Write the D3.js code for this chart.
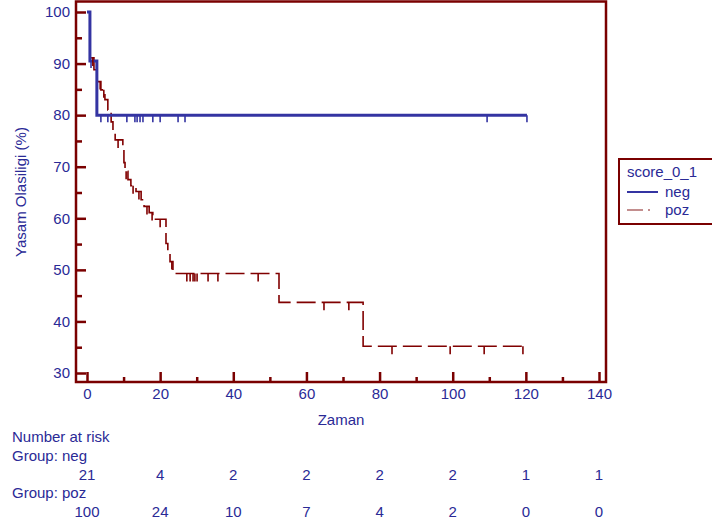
<!DOCTYPE html>
<html>
<head>
<meta charset="utf-8">
<script src="https://cdnjs.cloudflare.com/ajax/libs/d3/7.8.5/d3.min.js"></script>
<style>
  body { margin: 0; background: #fff; }
  svg { display: block; }
  text { font-family: "Liberation Sans", Arial, sans-serif; }
</style>
</head>
<body>
<svg width="712" height="526"></svg>
<script>
// survival steps (time, survival %)
var negTimes = [0, 0.8, 2.7];
var negSurv = [100, 90.5, 80];
var negEnd = 120.3;
var negCensor = [1.1, 3.8, 5.7, 10.9, 13.1, 13.7, 14.5, 15.3, 18, 20, 24.9, 26.8, 109.4, 120.3];

var pozTimes = [0, 0.8, 1.9, 2.7, 3.8, 4.9, 5.7, 6.6, 7.1, 7.7, 9.8, 10.1, 10.4, 11.2, 12.0, 13.4, 14.8, 15.6, 17.0, 18.0, 21.6, 22.1, 22.7, 23.5, 52.5, 75.5];
var pozSurv = [100, 91.1, 88.8, 86.5, 84.9, 83.0, 81.0, 78.7, 76.8, 75.2, 73.3, 70.8, 69.1, 67.5, 66.3, 65.2, 63.6, 62.3, 61.1, 59.8, 55.1, 53.6, 51.6, 49.3, 43.7, 35.2];
var pozEnd = 119.2;
var pozCensor = [1.6, 3.6, 4.6, 8.5, 10.7, 12.6, 14.2, 16.4, 17.8, 20, 23.2, 27.3, 28.2, 29, 29.5, 30.1, 33.1, 35.8, 46.8, 64.8, 71.6, 83.4, 99.3, 108.6, 119.2];

// number at risk
var riskTimes = [0, 20, 40, 60, 80, 100, 120, 140];
var riskNeg = [21, 4, 2, 2, 2, 2, 1, 1];
var riskPoz = [100, 24, 10, 7, 4, 2, 0, 0];

var yTicks = [30, 40, 50, 60, 70, 80, 90, 100];
var yMinor = [35, 45, 55, 65, 75, 85, 95];
var xTicks = [0, 20, 40, 60, 80, 100, 120, 140];
var xMinor = [10, 30, 50, 70, 90, 110, 130];

var frameColor = '#7a0000';
var textColor = '#2a2a96';
var negColor = '#3434a2';
var pozColor = '#800000';
var fontSize = 15;

var svg = d3.select('svg');

var x = d3.scaleLinear().domain([0, 140]).range([87, 599]);
var y = d3.scaleLinear().domain([30, 100]).range([373, 12]);

var plotL = 76, plotR = 606, plotT = 1.5, plotB = 382;

// plot frame
svg.append('rect')
  .attr('x', plotL).attr('y', plotT)
  .attr('width', plotR - plotL).attr('height', plotB - plotT)
  .attr('fill', 'none').attr('stroke', frameColor).attr('stroke-width', 2.5);

// axes
var styleAxis = function (g) {
  g.select('.domain').remove();
  g.selectAll('.tick line').attr('stroke', frameColor).attr('stroke-width', 2.5);
  g.selectAll('.tick text').attr('fill', textColor).attr('font-size', fontSize)
    .style('font-family', '"Liberation Sans", Arial, sans-serif');
};

svg.append('g').attr('transform', 'translate(' + plotL + ',0)')
  .call(d3.axisLeft(y).tickValues(yTicks).tickSize(-10).tickPadding(6))
  .call(styleAxis);
svg.append('g').attr('transform', 'translate(' + plotL + ',0)')
  .call(d3.axisLeft(y).tickValues(yMinor).tickSize(-6).tickFormat(''))
  .call(styleAxis);
svg.append('g').attr('transform', 'translate(0,' + plotB + ')')
  .call(d3.axisBottom(x).tickValues(xTicks).tickSize(-10).tickPadding(6))
  .call(styleAxis);
svg.append('g').attr('transform', 'translate(0,' + plotB + ')')
  .call(d3.axisBottom(x).tickValues(xMinor).tickSize(-5).tickFormat(''))
  .call(styleAxis);

// axis titles
svg.append('text')
  .attr('transform', 'translate(26,192) rotate(-90)')
  .attr('text-anchor', 'middle').attr('font-size', fontSize).attr('fill', textColor)
  .text('Yasam Olasiligi (%)');
svg.append('text')
  .attr('x', 341).attr('y', 425)
  .attr('text-anchor', 'middle').attr('font-size', fontSize).attr('fill', textColor)
  .text('Zaman');

// survival curves
var stepPoints = function (times, surv, end) {
  var pts = times.map(function (t, i) { return [t, surv[i]]; });
  pts.push([end, surv[surv.length - 1]]);
  return pts;
};
var survAt = function (times, surv, t) {
  var v = surv[0];
  for (var i = 0; i < times.length; i++) { if (times[i] <= t) v = surv[i]; }
  return v;
};

var line = d3.line()
  .x(function (d) { return x(d[0]); })
  .y(function (d) { return y(d[1]); })
  .curve(d3.curveStepAfter);

svg.append('path')
  .datum(stepPoints(pozTimes, pozSurv, pozEnd))
  .attr('d', line).attr('fill', 'none')
  .attr('stroke', pozColor).attr('stroke-width', 1.6)
  .attr('stroke-dasharray', '19,6');

svg.append('path')
  .datum(stepPoints(negTimes, negSurv, negEnd))
  .attr('d', line).attr('fill', 'none')
  .attr('stroke', negColor).attr('stroke-width', 3);

// censor marks
svg.append('g').selectAll('line')
  .data(pozCensor).enter().append('line')
  .attr('x1', function (d) { return x(d); }).attr('x2', function (d) { return x(d); })
  .attr('y1', function (d) { return y(survAt(pozTimes, pozSurv, d)); })
  .attr('y2', function (d) { return y(survAt(pozTimes, pozSurv, d)) + 8; })
  .attr('stroke', pozColor).attr('stroke-width', 1.6);

svg.append('g').selectAll('line')
  .data(negCensor).enter().append('line')
  .attr('x1', function (d) { return x(d); }).attr('x2', function (d) { return x(d); })
  .attr('y1', function (d) { return y(survAt(negTimes, negSurv, d)); })
  .attr('y2', function (d) { return y(survAt(negTimes, negSurv, d)) + 7; })
  .attr('stroke', negColor).attr('stroke-width', 1.6);

// legend
var legend = svg.append('g');
legend.append('rect')
  .attr('x', 619).attr('y', 159).attr('width', 110).attr('height', 65)
  .attr('fill', '#fff').attr('stroke', frameColor).attr('stroke-width', 2);
legend.append('text').attr('x', 627).attr('y', 177)
  .attr('font-size', fontSize).attr('fill', textColor).text('score_0_1');
legend.append('line').attr('x1', 627).attr('x2', 658).attr('y1', 192).attr('y2', 192)
  .attr('stroke', negColor).attr('stroke-width', 2);
legend.append('text').attr('x', 665).attr('y', 197)
  .attr('font-size', fontSize).attr('fill', textColor).text('neg');
legend.append('line').attr('x1', 627).attr('x2', 658).attr('y1', 210).attr('y2', 210)
  .attr('stroke', '#b06a6a').attr('stroke-width', 1.6).attr('stroke-dasharray', '16,5,2,20');
legend.append('text').attr('x', 665).attr('y', 215)
  .attr('font-size', fontSize).attr('fill', textColor).text('poz');

// number at risk table
var risk = svg.append('g').attr('font-size', fontSize).attr('fill', textColor);
risk.append('text').attr('x', 12).attr('y', 442).text('Number at risk');
risk.append('text').attr('x', 12).attr('y', 461).text('Group: neg');
risk.append('text').attr('x', 12).attr('y', 498).text('Group: poz');

risk.selectAll('.rneg').data(riskNeg).enter().append('text')
  .attr('class', 'rneg').attr('text-anchor', 'middle')
  .attr('x', function (d, i) { return x(riskTimes[i]); }).attr('y', 480)
  .text(function (d) { return d; });
risk.selectAll('.rpoz').data(riskPoz).enter().append('text')
  .attr('class', 'rpoz').attr('text-anchor', 'middle')
  .attr('x', function (d, i) { return x(riskTimes[i]); }).attr('y', 517)
  .text(function (d) { return d; });
</script>
</body>
</html>
